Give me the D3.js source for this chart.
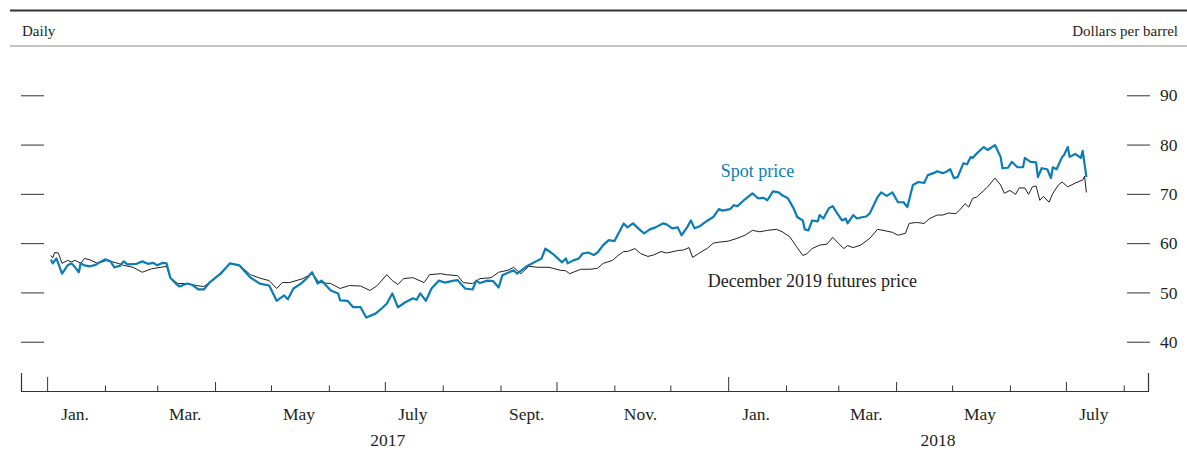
<!DOCTYPE html>
<html>
<head>
<meta charset="utf-8">
<script src="https://cdn.jsdelivr.net/npm/d3@7"></script>
<style>
  body { margin: 0; background: #fff; }
  svg text { font-family: "Liberation Serif", "Times New Roman", serif; fill: #231f20; }
</style>
</head>
<body>
<div id="chart"></div>
<script>
// Brent spot vs December 2019 futures, daily, dollars per barrel
var spotDates = [
  "2017-01-03","2017-01-04","2017-01-06","2017-01-09","2017-01-12","2017-01-14","2017-01-16","2017-01-18","2017-01-19","2017-01-21",
  "2017-01-24","2017-01-27","2017-01-29","2017-02-01","2017-02-04","2017-02-06","2017-02-09","2017-02-11","2017-02-13","2017-02-18",
  "2017-02-21","2017-02-24","2017-02-27","2017-03-01","2017-03-04","2017-03-06","2017-03-08","2017-03-11","2017-03-13","2017-03-17",
  "2017-03-20","2017-03-23","2017-03-26","2017-03-29","2017-04-04","2017-04-09","2017-04-14","2017-04-20","2017-04-25","2017-04-30",
  "2017-05-04","2017-05-08","2017-05-10","2017-05-13","2017-05-17","2017-05-20","2017-05-23","2017-05-26","2017-05-28","2017-06-02",
  "2017-06-06","2017-06-07","2017-06-11","2017-06-14","2017-06-18","2017-06-21","2017-06-26","2017-06-30","2017-07-02","2017-07-05",
  "2017-07-08","2017-07-12","2017-07-16","2017-07-18","2017-07-20","2017-07-23","2017-07-26","2017-07-30","2017-08-02","2017-08-07",
  "2017-08-09","2017-08-13","2017-08-17","2017-08-19","2017-08-21","2017-08-25","2017-08-28","2017-08-31","2017-09-02","2017-09-08",
  "2017-09-10","2017-09-15","2017-09-19","2017-09-23","2017-09-25","2017-09-28","2017-09-30","2017-10-04","2017-10-06","2017-10-07",
  "2017-10-10","2017-10-13","2017-10-15","2017-10-18","2017-10-21","2017-10-23","2017-10-26","2017-10-29","2017-11-01","2017-11-06",
  "2017-11-08","2017-11-11","2017-11-15","2017-11-17","2017-11-20","2017-11-23","2017-11-27","2017-11-29","2017-12-02","2017-12-05",
  "2017-12-07","2017-12-10","2017-12-12","2017-12-14","2017-12-17","2017-12-21","2017-12-24","2017-12-27","2017-12-29","2018-01-02",
  "2018-01-04","2018-01-06","2018-01-10","2018-01-14","2018-01-17","2018-01-20","2018-01-22","2018-01-25","2018-01-28","2018-01-30",
  "2018-02-02","2018-02-05","2018-02-07","2018-02-10","2018-02-11","2018-02-13","2018-02-15","2018-02-18","2018-02-19","2018-02-21",
  "2018-02-24","2018-02-26","2018-02-28","2018-03-03","2018-03-05","2018-03-06","2018-03-09","2018-03-11","2018-03-13","2018-03-16",
  "2018-03-18","2018-03-22","2018-03-24","2018-03-27","2018-03-30","2018-04-02","2018-04-05","2018-04-07","2018-04-10","2018-04-13",
  "2018-04-16","2018-04-18","2018-04-21","2018-04-23","2018-04-26","2018-04-28","2018-04-30","2018-05-02","2018-05-04","2018-05-07",
  "2018-05-09","2018-05-11","2018-05-12","2018-05-15","2018-05-18","2018-05-20","2018-05-24","2018-05-27","2018-05-28","2018-05-31",
  "2018-06-02","2018-06-05","2018-06-08","2018-06-09","2018-06-12","2018-06-15","2018-06-16","2018-06-18","2018-06-21","2018-06-23",
  "2018-06-24","2018-06-26","2018-06-29","2018-06-30","2018-07-02","2018-07-03","2018-07-06","2018-07-09","2018-07-10","2018-07-12"
];
var spotValues = [
  56.7,55.9,56.9,53.8,55.5,55.9,55.1,54.1,55.9,55.5,
  55.3,55.6,56.1,56.7,56.3,55.1,55.4,56.3,55.7,55.8,
  56.3,55.8,56.0,55.5,56.0,55.9,53.0,51.8,51.2,51.8,
  51.5,50.6,50.6,52.0,53.8,55.9,55.5,53.0,51.8,51.4,
  48.3,49.4,48.6,50.8,51.8,52.8,54.1,51.8,52.4,50.4,
  49.8,48.4,48.3,47.0,47.0,44.9,45.7,47.0,47.7,49.8,
  47.0,48.0,48.8,48.5,49.8,48.3,50.8,52.4,52.0,52.4,
  52.5,50.8,50.6,52.4,51.9,52.4,52.3,51.0,53.5,54.5,
  53.8,55.3,56.1,56.9,58.9,58.1,57.5,56.1,56.9,55.9,
  56.5,56.9,57.9,58.1,57.6,58.1,59.6,60.6,60.4,64.0,
  63.2,64.0,62.6,62.0,62.8,63.2,64.0,63.8,63.0,63.2,
  61.6,63.2,64.6,63.0,63.5,64.6,65.3,66.9,66.6,66.9,
  67.7,67.5,68.9,70.1,69.1,69.2,68.7,70.5,70.3,69.7,
  69.1,67.1,65.3,64.6,62.8,62.6,64.6,64.4,65.7,65.0,
  67.1,67.5,66.3,64.6,65.0,64.0,65.7,65.0,65.2,65.4,
  66.1,69.3,70.3,69.6,70.3,68.3,68.3,67.3,71.8,72.4,
  72.2,73.8,74.2,74.6,74.2,74.5,75.0,73.2,73.4,76.2,
  76.0,77.5,77.3,78.5,79.5,78.9,79.9,77.5,75.2,75.3,
  76.5,75.4,75.4,77.3,76.5,76.4,73.4,75.2,75.0,73.2,
  75.4,75.0,77.5,77.9,79.5,77.5,78.1,77.3,78.7,73.4
];
var futuresDates = [
  "2017-01-03","2017-01-04","2017-01-05","2017-01-07","2017-01-09","2017-01-12","2017-01-14","2017-01-16","2017-01-19","2017-01-21",
  "2017-01-24","2017-01-28","2017-02-02","2017-02-08","2017-02-11","2017-02-16","2017-02-21","2017-02-26","2017-03-03","2017-03-06",
  "2017-03-08","2017-03-12","2017-03-17","2017-03-22","2017-03-26","2017-03-29","2017-04-04","2017-04-09","2017-04-14","2017-04-20",
  "2017-04-25","2017-04-30","2017-05-04","2017-05-07","2017-05-11","2017-05-18","2017-05-23","2017-05-27","2017-06-02","2017-06-07",
  "2017-06-12","2017-06-18","2017-06-23","2017-06-27","2017-07-02","2017-07-05","2017-07-08","2017-07-11","2017-07-16","2017-07-22",
  "2017-07-25","2017-07-31","2017-08-03","2017-08-09","2017-08-12","2017-08-17","2017-08-21","2017-08-27","2017-08-31","2017-09-05",
  "2017-09-08","2017-09-12","2017-09-16","2017-09-21","2017-09-27","2017-10-03","2017-10-06","2017-10-08","2017-10-14","2017-10-19",
  "2017-10-23","2017-10-26","2017-10-31","2017-11-03","2017-11-06","2017-11-08","2017-11-12","2017-11-15","2017-11-19","2017-11-22",
  "2017-11-26","2017-11-29","2017-12-05","2017-12-08","2017-12-11","2017-12-13","2017-12-17","2017-12-21","2017-12-24","2017-12-27",
  "2018-01-01","2018-01-06","2018-01-10","2018-01-14","2018-01-18","2018-01-22","2018-01-27","2018-01-30","2018-02-03","2018-02-07",
  "2018-02-10","2018-02-12","2018-02-15","2018-02-19","2018-02-23","2018-02-26","2018-03-01","2018-03-04","2018-03-06","2018-03-09",
  "2018-03-13","2018-03-18","2018-03-22","2018-03-25","2018-03-30","2018-04-02","2018-04-06","2018-04-08","2018-04-12","2018-04-16",
  "2018-04-19","2018-04-23","2018-04-26","2018-04-29","2018-05-03","2018-05-05","2018-05-08","2018-05-10","2018-05-12","2018-05-14",
  "2018-05-18","2018-05-20","2018-05-24","2018-05-27","2018-05-29","2018-06-01","2018-06-04","2018-06-06","2018-06-09","2018-06-11",
  "2018-06-13","2018-06-15","2018-06-17","2018-06-19","2018-06-22","2018-06-24","2018-06-27","2018-06-29","2018-07-02","2018-07-06",
  "2018-07-10","2018-07-11","2018-07-12"
];
var futuresValues = [
  57.5,57.0,58.1,58.0,55.9,56.5,56.2,56.5,55.9,56.9,
  56.6,55.9,56.5,55.9,55.5,55.1,54.1,54.8,55.1,55.3,
  53.0,51.8,51.8,51.4,51.2,52.0,54.0,55.9,55.5,53.6,
  52.9,52.4,50.8,52.0,52.0,52.8,53.8,52.0,51.8,50.8,
  51.4,51.3,50.4,51.4,53.6,52.4,51.6,52.8,53.0,52.0,
  53.6,53.8,53.6,53.4,52.0,51.8,52.8,53.0,54.1,54.5,
  55.1,53.8,55.3,55.1,55.1,54.5,54.4,53.8,54.7,54.7,
  54.9,55.9,56.5,57.5,58.3,58.3,58.9,57.9,57.3,57.6,
  58.3,58.0,58.5,58.6,59.1,57.1,58.1,59.0,60.0,60.2,
  60.4,61.0,61.6,62.6,62.3,62.6,62.8,62.3,61.3,59.1,
  57.5,57.8,58.9,59.6,59.8,61.2,60.0,58.9,59.5,59.1,
  59.6,61.0,62.8,62.6,62.2,61.6,62.0,64.0,64.2,64.0,
  65.0,65.7,65.7,66.1,66.0,66.7,68.0,67.3,69.1,69.3,
  70.7,71.4,73.2,71.8,70.1,70.7,69.9,71.2,71.2,69.9,
  71.4,71.6,68.7,69.5,68.3,70.1,71.8,72.4,71.4,72.2,
  72.8,73.6,70.3
];
var yTicks = [40, 50, 60, 70, 80, 90];
var monthLabels = [
  ["2017-01-16", "Jan."], ["2017-03-16", "Mar."], ["2017-05-16", "May"], ["2017-07-16", "July"],
  ["2017-09-15", "Sept."], ["2017-11-15", "Nov."], ["2018-01-16", "Jan."], ["2018-03-16", "Mar."],
  ["2018-05-16", "May"], ["2018-07-16", "July"]
];
var yearLabels = [["2017-01-01", "2018-01-01", "2017"], ["2018-01-01", "2018-08-14", "2018"]];

var parse = d3.timeParse("%Y-%m-%d");
var spot = spotDates.map((d, i) => ({date: parse(d), value: spotValues[i]}));
var futures = futuresDates.map((d, i) => ({date: parse(d), value: futuresValues[i]}));

var width = 1187, height = 451;
var svg = d3.select("#chart").append("svg")
    .attr("width", width)
    .attr("height", height);

var x = d3.scaleTime()
    .domain([parse("2016-12-18"), parse("2018-08-14")])
    .range([21, 1148]);
var y = d3.scaleLinear()
    .domain([30, 100])
    .range([391, 46]);

// header rules
svg.append("line").attr("x1", 10).attr("x2", width).attr("y1", 10.5).attr("y2", 10.5)
    .attr("stroke", "#333").attr("stroke-width", 2);
svg.append("line").attr("x1", 10).attr("x2", width).attr("y1", 46).attr("y2", 46)
    .attr("stroke", "#888").attr("stroke-width", 1.2);
svg.append("text").attr("x", 22).attr("y", 36).style("font-size", "15px").text("Daily");
svg.append("text").attr("x", 1178).attr("y", 36).attr("text-anchor", "end")
    .style("font-size", "15px").text("Dollars per barrel");

// y ticks, both sides
var leftAxis = svg.append("g").attr("transform", "translate(21,0)")
    .call(d3.axisRight(y).tickValues(yTicks).tickSize(23).tickFormat(""));
leftAxis.select(".domain").remove();
var rightAxis = svg.append("g").attr("transform", "translate(1127,0)")
    .call(d3.axisRight(y).tickValues(yTicks).tickSize(23).tickPadding(10));
rightAxis.select(".domain").remove();
rightAxis.selectAll("text").style("font-size", "17.5px")
    .style("font-family", "Liberation Serif, serif").attr("fill", "#231f20");
svg.selectAll(".tick line").attr("stroke", "#333");

// x axis, ticks pointing up
var xAxis = svg.append("g").attr("transform", "translate(0,391)")
    .call(d3.axisTop(x).ticks(d3.timeMonth.every(1)).tickSizeInner(5.5).tickSizeOuter(18).tickFormat(""));
xAxis.select(".domain").attr("stroke", "#333").attr("stroke-width", 1.2);
xAxis.selectAll(".tick line")
    .attr("stroke", "#333")
    .attr("y2", d => d.getMonth() === 0 ? -14 : (d.getMonth() % 3 === 0 ? -9 : -5.5));

svg.append("g").selectAll("text")
    .data(monthLabels)
    .enter().append("text")
    .attr("x", d => x(parse(d[0])))
    .attr("y", 420)
    .attr("text-anchor", "middle")
    .style("font-size", "17.5px")
    .text(d => d[1]);

svg.append("g").selectAll("text")
    .data(yearLabels)
    .enter().append("text")
    .attr("x", d => (x(parse(d[0])) + x(parse(d[1]))) / 2)
    .attr("y", 446)
    .attr("text-anchor", "middle")
    .style("font-size", "17.5px")
    .text(d => d[2]);

// series
var line = d3.line()
    .x(d => x(d.date))
    .y(d => y(d.value));

svg.append("path").datum(futures)
    .attr("fill", "none")
    .attr("stroke", "#231f20")
    .attr("stroke-width", 1)
    .attr("d", line);
svg.append("path").datum(spot)
    .attr("fill", "none")
    .attr("stroke", "#0b7db6")
    .attr("stroke-width", 2.2)
    .attr("stroke-linejoin", "round")
    .attr("d", line);

// series labels
svg.append("text")
    .attr("x", x(parse("2017-12-28")))
    .attr("y", y(73.5))
    .style("fill", "#0b7db6")
    .style("font-size", "18px")
    .text("Spot price");
svg.append("text")
    .attr("x", x(parse("2017-12-21")))
    .attr("y", y(51.1))
    .style("font-size", "18px")
    .text("December 2019 futures price");
</script>
</body>
</html>
